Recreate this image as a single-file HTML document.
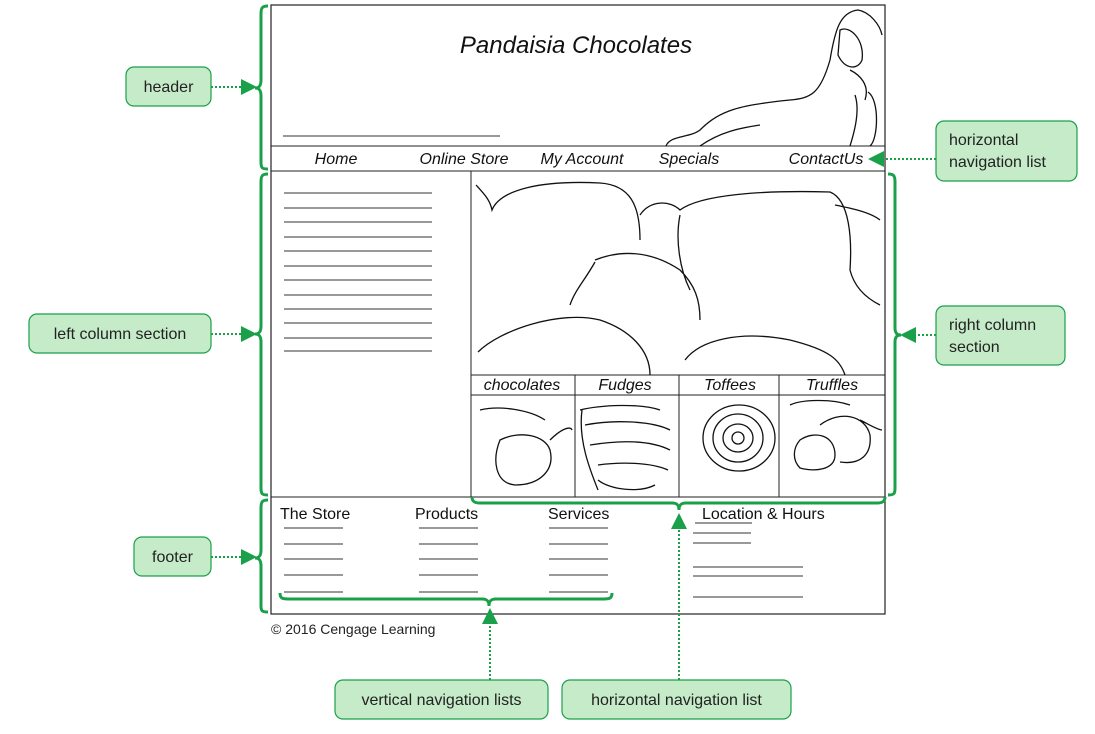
<!DOCTYPE html>
<html><head><meta charset="utf-8"><style>
body{margin:0;background:#fff;width:1095px;height:734px;overflow:hidden}
svg{display:block}
text{font-family:"Liberation Sans",sans-serif}
.lbl{font-size:16px;fill:#222}
.it{font-style:italic;font-size:16px;fill:#111}
.ft{font-size:16px;fill:#111}
.box{fill:#c6ebc9;stroke:#1aa04a;stroke-width:1.2}
.br{fill:none;stroke:#1aa04a;stroke-width:3}
.ar{stroke:#1aa04a;stroke-width:2;stroke-dasharray:2 2;fill:none}
.ln{stroke:#333;stroke-width:1}
.sk{fill:none;stroke:#111;stroke-width:1.3}
</style></head><body>
<svg width="1095" height="734" viewBox="0 0 1095 734">
<defs><marker id="ah" markerWidth="8" markerHeight="8" refX="7" refY="4" orient="auto"><path d="M0,0 L8,4 L0,8 z" fill="#1aa04a"/></marker></defs>
<g>
<rect x="271" y="5" width="614" height="609" fill="none" stroke="#222" stroke-width="1.2"/>
<line x1="271" y1="146" x2="885" y2="146" stroke="#222"/>
<line x1="271" y1="171" x2="885" y2="171" stroke="#222"/>
<line x1="271" y1="497" x2="885" y2="497" stroke="#222"/>
<line x1="471" y1="171" x2="471" y2="497" stroke="#222"/>
<line x1="471" y1="375" x2="885" y2="375" stroke="#222"/>
<line x1="471" y1="395" x2="885" y2="395" stroke="#222"/>
<line x1="575" y1="375" x2="575" y2="497" stroke="#222"/>
<line x1="679" y1="375" x2="679" y2="497" stroke="#222"/>
<line x1="779" y1="375" x2="779" y2="497" stroke="#222"/>
<line x1="283" y1="136" x2="500" y2="136" class="ln"/>
<text x="576" y="53" text-anchor="middle" style="font-style:italic;font-size:24px;fill:#111">Pandaisia Chocolates</text>
<g>
<text x="336" y="164" text-anchor="middle" class="it">Home</text>
<text x="464" y="164" text-anchor="middle" class="it">Online Store</text>
<text x="582" y="164" text-anchor="middle" class="it">My Account</text>
<text x="689" y="164" text-anchor="middle" class="it">Specials</text>
<text x="826" y="164" text-anchor="middle" class="it">ContactUs</text>
</g>
<path class="sk" stroke-width="2" d="M666,146 C670,135 690,138 700,130 C720,110 740,105 790,100 C810,98 820,95 830,60 C835,30 840,12 858,10 C870,12 880,25 882,35 M840,30 C850,25 865,40 862,60 C858,70 845,70 838,55 Z M850,70 C860,75 870,85 865,100 M700,146 C720,132 740,128 760,125 M855,95 C860,110 855,130 850,146 M868,92 C880,100 878,140 870,146"/>
<g>
<line x1="284" y1="193" x2="432" y2="193" class="ln"/><line x1="284" y1="208" x2="432" y2="208" class="ln"/>
<line x1="284" y1="222" x2="432" y2="222" class="ln"/><line x1="284" y1="237" x2="432" y2="237" class="ln"/>
<line x1="284" y1="251" x2="432" y2="251" class="ln"/><line x1="284" y1="266" x2="432" y2="266" class="ln"/>
<line x1="284" y1="280" x2="432" y2="280" class="ln"/><line x1="284" y1="295" x2="432" y2="295" class="ln"/>
<line x1="284" y1="309" x2="432" y2="309" class="ln"/><line x1="284" y1="323" x2="432" y2="323" class="ln"/>
<line x1="284" y1="338" x2="432" y2="338" class="ln"/><line x1="284" y1="351" x2="432" y2="351" class="ln"/>
</g>
<path class="sk" d="M476,185 C485,195 490,200 492,210 C500,190 540,180 600,183 C630,185 640,205 640,240 M640,215 C650,200 670,200 680,210 C700,195 760,190 830,192 C850,200 852,240 850,270 C855,290 870,300 880,305 M680,215 C675,240 680,270 690,290 M595,260 C620,250 650,250 680,270 C695,285 700,300 700,320 M595,262 C585,280 575,290 570,305 M478,352 C500,330 560,310 600,320 C630,330 650,350 650,375 M685,360 C700,340 740,330 790,340 C830,350 840,360 845,375 M835,205 C850,208 870,212 880,220"/>
<g>
<text x="522" y="390" text-anchor="middle" class="it">chocolates</text>
<text x="625" y="390" text-anchor="middle" class="it">Fudges</text>
<text x="730" y="390" text-anchor="middle" class="it">Toffees</text>
<text x="832" y="390" text-anchor="middle" class="it">Truffles</text>
</g>
<path class="sk" d="M500,440 C520,430 545,435 550,450 C555,470 540,485 515,485 C495,483 492,460 500,440 Z M480,410 C500,405 530,410 545,420 M550,440 C560,430 570,425 572,430 M580,410 C600,405 640,403 660,410 M585,425 C610,420 650,420 670,430 M590,445 C620,440 650,440 670,450 M598,465 C620,462 650,462 668,470 M598,480 C610,490 640,493 655,485 M582,410 C578,440 590,470 598,490 M738,438 m-6,0 a6,6 0 1,0 12,0 a6,6 0 1,0 -12,0 M738,438 m-15,0 a15,14 0 1,0 30,0 a15,14 0 1,0 -30,0 M738,438 m-25,0 a25,24 0 1,0 50,0 a25,24 0 1,0 -50,0 M738,438 m-35,0 a36,33 0 1,0 72,0 a36,33 0 1,0 -72,0 M800,440 C815,430 835,435 835,455 C835,470 815,472 800,468 C792,460 793,448 800,440 Z M820,425 C840,410 865,415 870,435 C872,455 860,465 840,462 M790,405 C800,400 830,398 850,405 M860,420 C870,425 878,430 882,430"/>
<g>
<text x="280" y="519" class="ft">The Store</text>
<text x="415" y="519" class="ft">Products</text>
<text x="548" y="519" class="ft">Services</text>
<text x="702" y="519" class="ft">Location &amp; Hours</text>
<g class="ln">
<line x1="284" y1="528" x2="343" y2="528"/><line x1="284" y1="544" x2="343" y2="544"/><line x1="284" y1="559" x2="343" y2="559"/><line x1="284" y1="575" x2="343" y2="575"/><line x1="284" y1="592" x2="343" y2="592"/>
<line x1="419" y1="528" x2="478" y2="528"/><line x1="419" y1="544" x2="478" y2="544"/><line x1="419" y1="559" x2="478" y2="559"/><line x1="419" y1="575" x2="478" y2="575"/><line x1="419" y1="592" x2="478" y2="592"/>
<line x1="549" y1="528" x2="608" y2="528"/><line x1="549" y1="544" x2="608" y2="544"/><line x1="549" y1="559" x2="608" y2="559"/><line x1="549" y1="575" x2="608" y2="575"/><line x1="549" y1="592" x2="608" y2="592"/>
<line x1="695" y1="523" x2="752" y2="523"/><line x1="693" y1="533" x2="751" y2="533"/><line x1="693" y1="543" x2="751" y2="543"/>
<line x1="693" y1="567" x2="803" y2="567"/><line x1="693" y1="576" x2="803" y2="576"/><line x1="693" y1="597" x2="803" y2="597"/>
</g>
</g>
<text x="271" y="634" style="font-size:14px;fill:#222">© 2016 Cengage Learning</text>
</g>
<g>
<path class="br" d="M268,6 C262,6 261,8 261,14 L261,80 C261,86 259,88 255,88 C259,88 261,90 261,96 L261,162 C261,168 262,169 268,169"/>
<path class="br" d="M268,174 C262,174 261,176 261,182 L261,326 C261,332 259,334 255,334 C259,334 261,336 261,342 L261,488 C261,494 262,495 268,495"/>
<path class="br" d="M268,500 C262,500 261,502 261,508 L261,550 C261,556 259,558 255,558 C259,558 261,560 261,566 L261,606 C261,611 262,612 268,612"/>
<path class="br" d="M888,174 C894,174 895,176 895,182 L895,328 C895,333 897,335 901,335 C897,335 895,337 895,342 L895,488 C895,494 894,495 888,495"/>
<path class="br" d="M280,593 C280,598 282,599 288,599 L482,599 C487,599 489,601 489,606 C489,601 491,599 496,599 L604,599 C610,599 612,598 612,593"/>
<path class="br" d="M472,497 C472,501 474,503 480,503 L672,503 C677,503 679,505 679,510 C679,505 681,503 686,503 L877,503 C883,503 885,501 885,497"/>
</g>
<g>
<line class="ar" x1="211" y1="87" x2="255" y2="87" marker-end="url(#ah)"/>
<line class="ar" x1="211" y1="334" x2="255" y2="334" marker-end="url(#ah)"/>
<line class="ar" x1="211" y1="557" x2="255" y2="557" marker-end="url(#ah)"/>
<line class="ar" x1="936" y1="159" x2="870" y2="159" marker-end="url(#ah)"/>
<line class="ar" x1="936" y1="335" x2="902" y2="335" marker-end="url(#ah)"/>
<line class="ar" x1="490" y1="680" x2="490" y2="610" marker-end="url(#ah)"/>
<line class="ar" x1="679" y1="680" x2="679" y2="515" marker-end="url(#ah)"/>
</g>
<g>
<g><rect class="box" x="126" y="67" width="85" height="39" rx="8"/><text class="lbl" x="168.5" y="92" text-anchor="middle">header</text></g>
<g><rect class="box" x="29" y="314" width="182" height="39" rx="8"/><text class="lbl" x="120" y="339" text-anchor="middle">left column section</text></g>
<g><rect class="box" x="134" y="537" width="77" height="39" rx="8"/><text class="lbl" x="172.5" y="562" text-anchor="middle">footer</text></g>
<g><rect class="box" x="936" y="121" width="141" height="60" rx="8"/><text class="lbl" x="949" y="145">horizontal</text><text class="lbl" x="949" y="167">navigation list</text></g>
<g><rect class="box" x="936" y="306" width="129" height="59" rx="8"/><text class="lbl" x="949" y="330">right column</text><text class="lbl" x="949" y="352">section</text></g>
<g><rect class="box" x="335" y="680" width="213" height="39" rx="8"/><text class="lbl" x="441.5" y="705" text-anchor="middle">vertical navigation lists</text></g>
<g><rect class="box" x="562" y="680" width="229" height="39" rx="8"/><text class="lbl" x="676.5" y="705" text-anchor="middle">horizontal navigation list</text></g>
</g>
</svg>
</body></html>
